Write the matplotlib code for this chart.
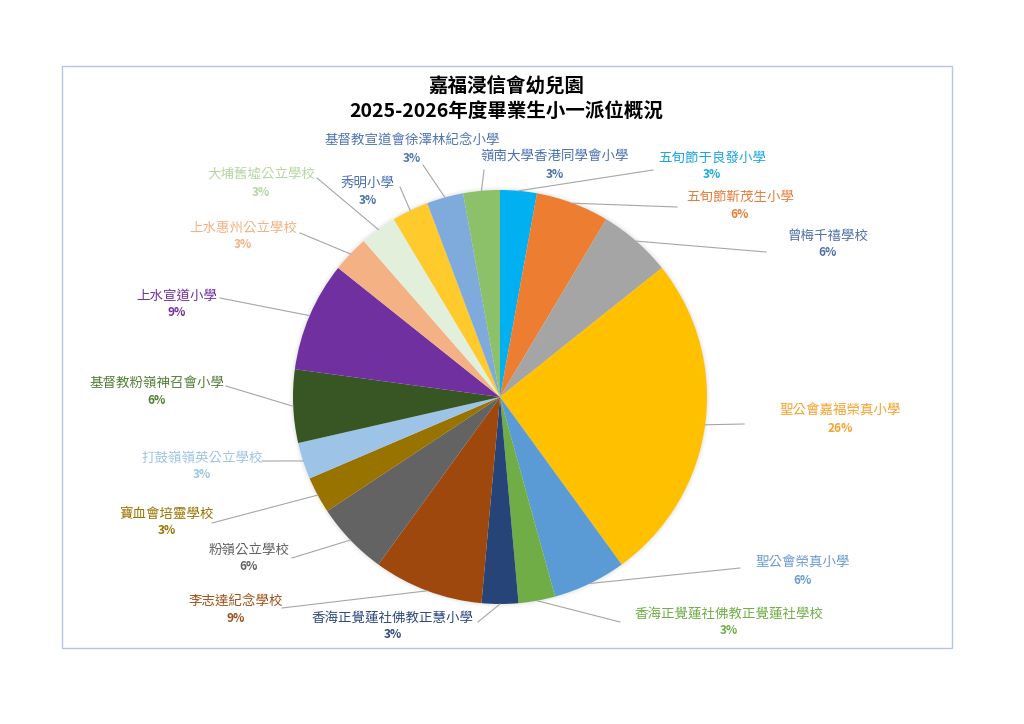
import math
import matplotlib.pyplot as plt
from matplotlib.patches import Rectangle, Circle

plt.rcParams["font.family"] = ["Noto Sans CJK TC", "DejaVu Sans"]

W, H = 1024, 724

title_lines = ["嘉福浸信會幼兒園", "2025-2026年度畢業生小一派位概況"]

schools = [
    "五旬節于良發小學", "五旬節靳茂生小學", "曾梅千禧學校", "聖公會嘉福榮真小學",
    "聖公會榮真小學", "香海正覺蓮社佛教正覺蓮社學校", "香海正覺蓮社佛教正慧小學",
    "李志達紀念學校", "粉嶺公立學校", "寶血會培靈學校", "打鼓嶺嶺英公立學校",
    "基督教粉嶺神召會小學", "上水宣道小學", "上水惠州公立學校", "大埔舊墟公立學校",
    "秀明小學", "基督教宣道會徐澤林紀念小學", "嶺南大學香港同學會小學",
]
counts = [1, 2, 2, 9, 2, 1, 1, 3, 2, 1, 1, 2, 3, 1, 1, 1, 1, 1]

slice_colors = [
    "#00B0F0", "#ED7D31", "#A5A5A5", "#FFC000", "#5B9BD5", "#70AD47",
    "#264478", "#9E480E", "#636363", "#997300", "#9DC3E6", "#375623",
    "#7030A0", "#F4B183", "#E2EFDA", "#FFCA2C", "#7FAADC", "#8CC16A",
]
text_colors = [
    "#1AA7DF", "#E67D3A", "#4F71A8", "#F5A02A", "#6A9BD0", "#70AD47",
    "#2E4A80", "#A0501A", "#606060", "#997300", "#9DC3E6", "#4F7F37",
    "#7030A0", "#F4B183", "#B5D6A0", "#4A70B0", "#5075B5", "#4A70B0",
]

# label layout in image pixels: text centre of the name line, and leader line end
label_xy = [
    (712, 158), (740, 197), (828, 236), (840, 411), (803, 563), (729, 614),
    (393, 618), (236, 602), (249, 550), (167, 514), (202, 458), (157, 383),
    (177, 296), (243, 228), (261, 175), (368, 184), (412, 141), (555, 157),
]
line_end = [
    (653, 170), (677, 207), (766, 252), (744, 424), (740, 568), (620, 622),
    (478, 622), (282, 608), (292, 558), (212, 523), (262, 461), (226, 386),
    (220, 298), (300, 233), (317, 178), (400, 187), (423, 165), (484, 170),
]

cx, cy, r = 500, 397, 207

fig = plt.figure(figsize=(W / 100, H / 100), dpi=100)
ax = fig.add_axes([0, 0, 1, 1])

# soft shadow round the pie
for i, a in enumerate([0.05, 0.04, 0.03, 0.02]):
    ax.add_patch(Circle((cx, cy), r + 1 + i, color="#808080", alpha=a, lw=0, zorder=0))

# y axis is inverted below, so startangle=-90 with counterclock=True
# runs clockwise from 12 o'clock on screen
wedges, _ = ax.pie(counts, colors=slice_colors, startangle=-90, counterclock=True,
                   center=(cx, cy), radius=r, wedgeprops=dict(linewidth=0))

total = sum(counts)
for w, name, n, tc, (tx, ty), (ex, ey) in zip(wedges, schools, counts, text_colors,
                                                label_xy, line_end):
    mid = math.radians((w.theta1 + w.theta2) / 2)
    sx = cx + r * math.cos(mid)
    sy = cy + r * math.sin(mid)
    ax.plot([sx, ex], [sy, ey], color="#A6A6A6", lw=0.8, zorder=1)
    ax.text(tx, ty, name, color=tc, fontsize=9.7, ha="center", va="center")
    ax.text(tx, ty + 17, f"{round(n / total * 100)}%", color=tc, fontsize=8.5,
            fontweight="bold", ha="center", va="center")

ax.text(506, 87, title_lines[0], fontsize=14, fontweight="bold", ha="center", va="center")
ax.text(506, 112, title_lines[1], fontsize=14, fontweight="bold", ha="center", va="center")

ax.add_patch(Rectangle((62, 66), 890, 582, fill=False, edgecolor="#B7C6DE", lw=1.0))

ax.set_xlim(0, W)
ax.set_ylim(H, 0)
ax.set_aspect("auto")
ax.axis("off")

fig.savefig("out.png", dpi=100, facecolor="white")
